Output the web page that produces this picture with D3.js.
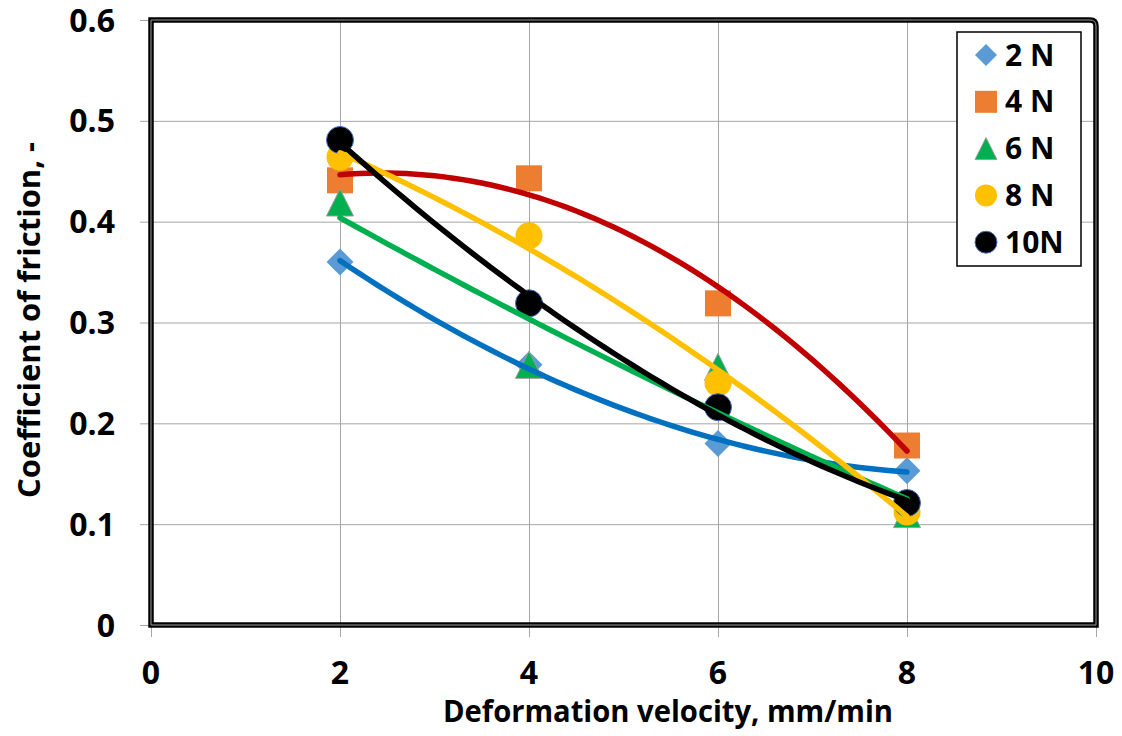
<!DOCTYPE html>
<html>
<head>
<meta charset="utf-8">
<script src="https://cdn.jsdelivr.net/npm/d3@7"></script>
<style>
  html, body { margin: 0; padding: 0; background: #fff; }
  svg { display: block; }
  text { font-family: "Open Sans", Lato, sans-serif; font-weight: bold; fill: #000; }
</style>
</head>
<body>
<svg id="chart" width="1122" height="736"></svg>
<script>
// Deformation velocity (mm/min)
const velocities = [2, 4, 6, 8];
// Coefficient of friction for each normal load
const loadNames = ["2 N", "4 N", "6 N", "8 N", "10N"];
const friction2N  = [0.360, 0.258, 0.180, 0.153];
const friction4N  = [0.441, 0.443, 0.319, 0.178];
const friction6N  = [0.419, 0.258, 0.256, 0.110];
const friction8N  = [0.464, 0.386, 0.240, 0.112];
const friction10N = [0.481, 0.319, 0.216, 0.121];
const xTicks = [0, 2, 4, 6, 8, 10];
const yTicks = [0, 0.1, 0.2, 0.3, 0.4, 0.5, 0.6];

const markerFill  = ["#5b9bd5", "#ed7d31", "#00b050", "#ffc000", "#000000"];
const markerEdge  = ["none", "none", "#9c9c9c", "none", "#4472c4"];
const markerShape = ["diamond", "square", "triangle", "circle", "circle"];
const trendColor  = ["#0070c0", "#c00000", "#00b050", "#ffc000", "#000000"];

const seriesList = [friction2N, friction4N, friction6N, friction8N, friction10N].map((vals, i) => ({
  name: loadNames[i],
  points: velocities.map((v, j) => ({ x: v, y: vals[j] })),
  fill: markerFill[i], edge: markerEdge[i], shape: markerShape[i], trend: trendColor[i]
}));

const svg = d3.select("#chart");
const plot = { left: 151, top: 20, right: 1096, bottom: 625 };

const x = d3.scaleLinear().domain([0, 10]).range([plot.left, plot.right]);
const y = d3.scaleLinear().domain([0, 0.6]).range([plot.bottom, plot.top]);

const gridColor = "#a6a6a6";

// gridlines with outward tick stubs
const xAxis = d3.axisBottom(x).tickValues(xTicks).tickSize(-(plot.bottom - plot.top)).tickSizeOuter(0).tickFormat("");
const gx = svg.append("g").attr("transform", `translate(0,${plot.bottom})`).call(xAxis);
gx.select(".domain").remove();
gx.selectAll(".tick line").attr("stroke", gridColor).attr("stroke-width", 1).attr("y1", 12);

const yAxis = d3.axisLeft(y).tickValues(yTicks).tickSize(-(plot.right - plot.left)).tickSizeOuter(0).tickFormat("");
const gy = svg.append("g").attr("transform", `translate(${plot.left},0)`).call(yAxis);
gy.select(".domain").remove();
gy.selectAll(".tick line").attr("stroke", gridColor).attr("stroke-width", 1).attr("x1", -11);

// tick labels
svg.append("g").selectAll("text").data(xTicks).join("text")
  .attr("x", d => x(d)).attr("y", 684)
  .attr("text-anchor", "middle").attr("font-size", 32)
  .text(d => d);

svg.append("g").selectAll("text").data(yTicks).join("text")
  .attr("x", 115).attr("y", d => y(d) + 11.5)
  .attr("text-anchor", "end").attr("font-size", 32)
  .text(d => d === 0 ? "0" : d3.format(".1f")(d));

// plot frame: heavy double border with rounded top-right corner
const r = 6;
const framePath = `M${plot.left},${plot.bottom} V${plot.top} H${plot.right - r} Q${plot.right},${plot.top} ${plot.right},${plot.top + r} V${plot.bottom} Z`;
svg.append("path").attr("d", framePath).attr("fill", "none").attr("stroke", "#000").attr("stroke-width", 5.5);
svg.append("path").attr("d", framePath).attr("fill", "none").attr("stroke", "#9a9a9a").attr("stroke-width", 1);

// marker drawing helper
function marker(sel, shape, size) {
  if (shape === "circle") {
    sel.append("circle").attr("r", size / 2);
  } else if (shape === "square") {
    sel.append("rect").attr("x", -size / 2).attr("y", -size / 2).attr("width", size).attr("height", size);
  } else if (shape === "diamond") {
    const h = size / 2;
    sel.append("path").attr("d", `M0,${-h} L${h},0 L0,${h} L${-h},0 Z`);
  } else if (shape === "triangle") {
    const h = size / 2;
    sel.append("path").attr("d", `M0,${-h} L${h},${h} L${-h},${h} Z`);
  }
}

// data markers
seriesList.forEach(s => {
  s.points.forEach(p => {
    const g = svg.append("g").attr("transform", `translate(${x(p.x)},${y(p.y)})`);
    marker(g, s.shape, s.shape === "square" ? 26 : 27);
    g.selectAll("*").attr("fill", s.fill).attr("stroke", s.edge).attr("stroke-width", 1);
  });
});

// second-order polynomial least-squares fit
function quadFit(pts) {
  const n = pts.length;
  let sx = 0, sx2 = 0, sx3 = 0, sx4 = 0, sy = 0, sxy = 0, sx2y = 0;
  pts.forEach(({ x: a, y: b }) => {
    sx += a; sx2 += a * a; sx3 += a ** 3; sx4 += a ** 4;
    sy += b; sxy += a * b; sx2y += a * a * b;
  });
  const M = [[n, sx, sx2, sy], [sx, sx2, sx3, sxy], [sx2, sx3, sx4, sx2y]];
  for (let i = 0; i < 3; i++) {
    for (let k = i + 1; k < 3; k++) {
      const f = M[k][i] / M[i][i];
      for (let j = i; j < 4; j++) M[k][j] -= f * M[i][j];
    }
  }
  const c = [0, 0, 0];
  for (let i = 2; i >= 0; i--) {
    let s = M[i][3];
    for (let j = i + 1; j < 3; j++) s -= M[i][j] * c[j];
    c[i] = s / M[i][i];
  }
  return t => c[0] + c[1] * t + c[2] * t * t;
}

const line = d3.line().x(d => x(d.x)).y(d => y(d.y)).curve(d3.curveLinear);
const [x0, x1] = d3.extent(velocities);
seriesList.forEach(s => {
  const f = quadFit(s.points);
  const samples = d3.range(0, 61).map(i => {
    const t = x0 + (x1 - x0) * i / 60;
    return { x: t, y: f(t) };
  });
  svg.append("path").datum(samples).attr("d", line)
    .attr("fill", "none").attr("stroke", s.trend).attr("stroke-width", 5.5)
    .attr("stroke-linecap", "round").attr("stroke-linejoin", "round");
});

// legend
const legend = svg.append("g");
legend.append("rect").attr("x", 957).attr("y", 32).attr("width", 124).attr("height", 234)
  .attr("fill", "#fff").attr("stroke", "#000").attr("stroke-width", 1.5);
seriesList.forEach((s, i) => {
  const cy = 55 + i * 46.8;
  const g = legend.append("g").attr("transform", `translate(986,${cy})`);
  marker(g, s.shape, 22);
  g.selectAll("*").attr("fill", s.fill).attr("stroke", s.edge).attr("stroke-width", 1);
  legend.append("text").attr("x", 1005).attr("y", cy + 10.5).attr("font-size", 30).text(s.name);
});

// axis titles
svg.append("text").attr("x", 668).attr("y", 722).attr("text-anchor", "middle")
  .attr("font-size", 31).attr("textLength", 450).attr("lengthAdjust", "spacingAndGlyphs")
  .text("Deformation velocity, mm/min");

svg.append("text").attr("transform", "translate(40,320) rotate(-90)").attr("text-anchor", "middle")
  .attr("font-size", 31).attr("textLength", 356).attr("lengthAdjust", "spacingAndGlyphs")
  .text("Coefficient of friction, -");
</script>
</body>
</html>
